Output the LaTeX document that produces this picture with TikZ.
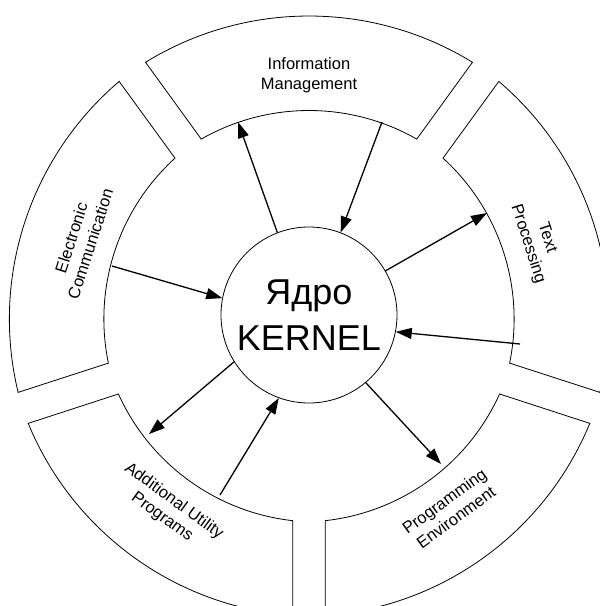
\documentclass[tikz,border=0pt]{standalone}
\usepackage{fontspec}
\setmainfont{Liberation Sans}
\usetikzlibrary{arrows.meta,positioning}

\begin{document}
\begin{tikzpicture}[x=1pt,y=1pt,
  segment/.style={draw, line width=0.8pt},
  flow/.style={-{Triangle[length=16pt,width=11pt]}, line width=1.3pt},
  lbl/.style={align=center, font=\fontsize{16.5}{20}\selectfont}]
\useasboundingbox (-309,-291) rectangle (291,315);
\clip (-309,-291) rectangle (291,315);

% ring segments
\foreach\ang in {90,18,-54,-126,-198}
  \draw [segment, shift={(\ang:-13)}] ({\ang-31.6}:312) arc [start angle=\ang-31.6, end angle=\ang+31.6, radius=312pt]
    -- ({\ang+29.7}:217.5) arc [start angle=\ang+29.7, end angle=\ang-29.7, radius=217.5pt] -- cycle;

\foreach\ang/\rot/\nm/\txt in {90/0/info/{Information\\Management}, 18/-72/text/{Text\\Processing},
    -54/36/prog/{Programming\\Environment}, -126/-36/util/{Additional Utility\\Programs},
    -198/72/comm/{Electronic\\Communication}}
  \node [lbl, rotate=\rot] (\nm) at (\ang:240) {\txt};

% kernel
\node [circle, draw, line width=0.8pt, minimum size=176pt, inner sep=0pt, align=center,
  font=\fontsize{36}{46}\selectfont] (kernel) at (0,0) {Ядро\\KERNEL};

\coordinate (info-a) at (-71,193);
\coordinate (info-b) at (73,193);
\coordinate (text-a) at (178,102);
\coordinate (text-b) at (211,-29);
\coordinate (prog-a) at (132,-149);
\coordinate (util-b) at (-89,-180);
\coordinate (util-a) at (-160,-119);
\coordinate (comm-b) at (-197,49);

\draw [flow] (kernel.111) -- (info-a);
\draw [flow] (info-b) -- (kernel.69);
\draw [flow] (kernel.30) -- (text-a);
\draw [flow] (text-b) -- (kernel.-11);
\draw [flow] (kernel.-50) -- (prog-a);
\draw [flow] (util-b) -- (kernel.250);
\draw [flow] (kernel.212) -- (util-a);
\draw [flow] (comm-b) -- (kernel.169);

\end{tikzpicture}
\end{document}
